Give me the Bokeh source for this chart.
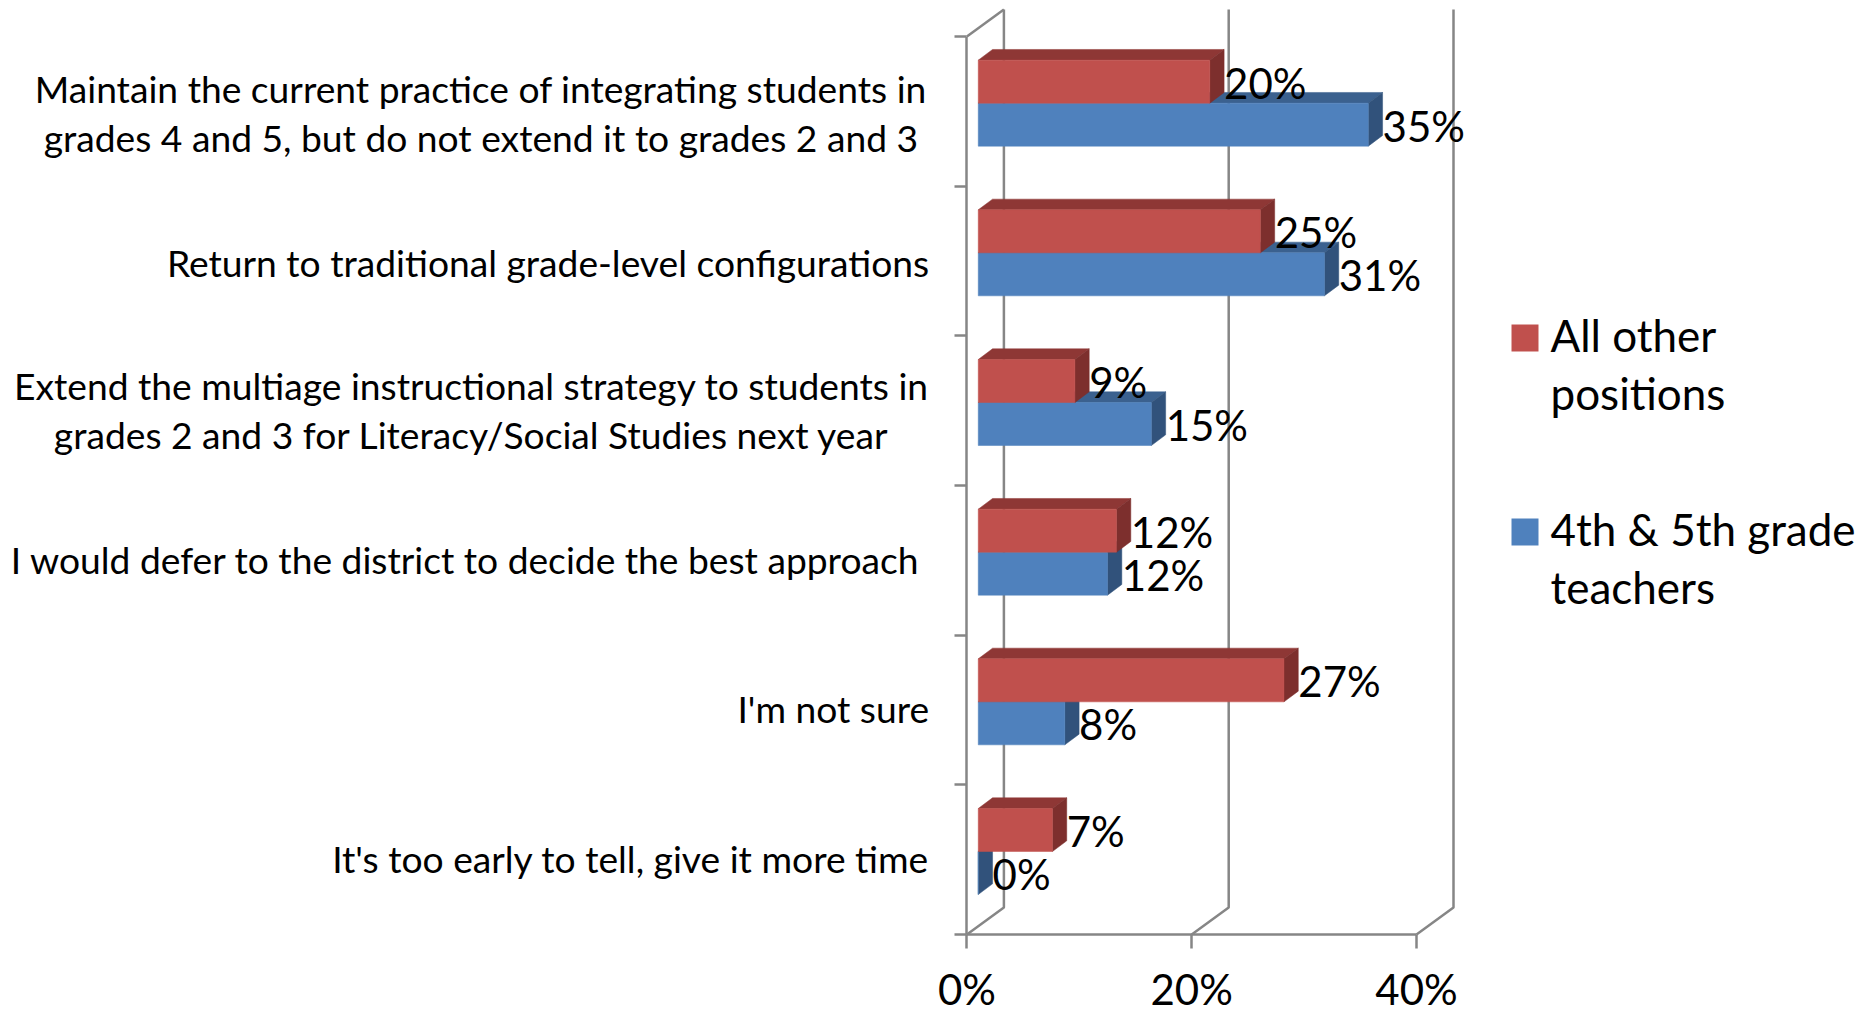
from bokeh.plotting import figure
from bokeh.embed import file_html
from bokeh.resources import INLINE
from bokeh.models import FixedTicker, Range1d, ColumnDataSource
from bokeh.core.properties import value

# ---------- data (top of chart first) ----------
categories = [
    ["Maintain the current practice of integrating students in", "grades 4 and 5, but do not extend it to grades 2 and 3"],
    ["Return to traditional grade-level configurations"],
    ["Extend the multiage instructional strategy to students in", "grades 2 and 3 for Literacy/Social Studies next year"],
    ["I would defer to the district to decide the best approach"],
    ["I'm not sure"],
    ["It's too early to tell, give it more time"],
]
series_other = [20.6, 25.1, 8.6, 12.3, 27.2, 6.6]
series_teachers = [34.7, 30.8, 15.4, 11.5, 7.7, 0.0]
labels_other = ["20%", "25%", "9%", "12%", "27%", "7%"]
labels_teachers = ["35%", "31%", "15%", "12%", "8%", "0%"]
x_ticks = [0, 20, 40]
x_tick_labels = {0: "0%", 20: "20%", 40: "40%"}
legend_names = [["All other", "positions"], ["4th & 5th grade", "teachers"]]

RED, RED_TOP, RED_SIDE = "#C0504D", "#8E3735", "#7D2F2D"
BLUE, BLUE_TOP, BLUE_SIDE = "#4F81BD", "#3B618F", "#31527B"
GRID = "#868686"
FONT = "Lato"

# ---------- layout ----------
W, H = 1864, 1013
X0_PX, Y0_PX = 966.4, 934             # position of the value 0 / category 0 inside the figure
SX, SY = 11.24, 149.67                # px per percent, px per category
WALL_DX, WALL_DY = 37 / SX, 27 / SY
BAR_DX, BAR_DY = 14.3 / SX, 10.7 / SY
OFF_X, OFF_Y = (WALL_DX - BAR_DX) / 2, (WALL_DY - BAR_DY) / 2
HALF = 43 / SY

def fx(px):  # figure px -> x data
    return (px - X0_PX) / SX

def fy(px):  # figure px from top -> y data
    return (Y0_PX - px) / SY

p = figure(width=W, height=H, output_backend="svg", toolbar_location=None,
           x_range=Range1d(fx(0), fx(W)), y_range=Range1d(fy(H), fy(0)),
           min_border=0, min_border_left=0, min_border_right=0, min_border_top=0, min_border_bottom=0)
p.outline_line_color = None
p.grid.visible = False
p.background_fill_color = "white"

# ---------- axes ----------
for ax in (p.xaxis[0], p.yaxis[0]):
    ax.fixed_location = 0
    ax.axis_line_color = GRID
    ax.axis_line_width = 2.5
    ax.major_tick_line_color = GRID
    ax.major_tick_line_width = 2.5
    ax.minor_tick_line_color = None
    ax.major_tick_in = 0
p.xaxis[0].ticker = FixedTicker(ticks=x_ticks)
p.xaxis[0].bounds = (0, 40)
p.xaxis[0].major_label_overrides = x_tick_labels
p.xaxis[0].major_tick_out = 14
p.xaxis[0].major_label_standoff = 15
p.xaxis[0].major_label_text_font = FONT
p.xaxis[0].major_label_text_font_size = "42px"
p.xaxis[0].major_label_text_color = "black"
p.yaxis[0].ticker = FixedTicker(ticks=list(range(len(categories) + 1)))
p.yaxis[0].bounds = (0, len(categories))
p.yaxis[0].major_tick_out = 12
p.yaxis[0].major_label_overrides = {i: "" for i in range(len(categories) + 1)}

# ---------- walls ----------
for t in x_ticks:
    p.line([t, t + WALL_DX, t + WALL_DX], [0, WALL_DY, len(categories) + WALL_DY],
           line_color=GRID, line_width=2.5)
p.line([0, WALL_DX], [len(categories), len(categories) + WALL_DY], line_color=GRID, line_width=2.5)

# ---------- 3D bars ----------
def draw(values, y_low, y_high, front, top, side):
    xs_top, ys_top, xs_side, ys_side = [], [], [], []
    for v, lo, hi in zip(values, y_low, y_high):
        a, b = OFF_X, OFF_X + v
        xs_top.append([a, b, b + BAR_DX, a + BAR_DX])
        ys_top.append([hi, hi, hi + BAR_DY, hi + BAR_DY])
        xs_side.append([b, b + BAR_DX, b + BAR_DX, b])
        ys_side.append([lo, lo + BAR_DY, hi + BAR_DY, hi])
    p.patches(xs_top, ys_top, fill_color=top, line_color=top, line_width=0.5)
    p.patches(xs_side, ys_side, fill_color=side, line_color=side, line_width=0.5)
    p.quad(left=[OFF_X] * len(values), right=[OFF_X + v for v in values],
           bottom=y_low, top=y_high, fill_color=front, line_color=front, line_width=0.5)

n = len(categories)
centers = [n - 0.5 - i + OFF_Y for i in range(n)]
draw(series_teachers, [c - HALF for c in centers], centers, BLUE, BLUE_TOP, BLUE_SIDE)
draw(series_other, centers, [c + HALF for c in centers], RED, RED_TOP, RED_SIDE)

# ---------- data labels ----------
def labels(values, texts, ys):
    src = ColumnDataSource(dict(x=[OFF_X + v + BAR_DX for v in values], y=ys, t=texts))
    p.text(x="x", y="y", text="t", source=src, x_offset=0, y_offset=1,
           text_font=value(FONT), text_font_size="42px", text_color="black",
           text_align="left", text_baseline="middle")

labels(series_other, labels_other, [c + HALF / 2 for c in centers])
labels(series_teachers, labels_teachers, [c - HALF / 2 for c in centers])

# ---------- category labels ----------
RIGHT_X = [None, fx(928.6), None, fx(919.5), fx(928.6), fx(928.6)]
CENTER_X = [fx(480.4), None, fx(471), None, None, None]
ROW_OFF = [1.5, 1.5, -1, -1, -1, -1]
for i, lines in enumerate(categories):
    yc = n - 0.5 - i
    off = ROW_OFF[i]
    if len(lines) == 2:
        p.text(x=[CENTER_X[i]] * 2, y=[yc, yc], text=lines, y_offset=[off - 24.5, off + 24.5],
               text_font=value(FONT), text_font_size="37.2px", text_color="black",
               text_align="center", text_baseline="middle")
    else:
        p.text(x=[RIGHT_X[i]], y=[yc], text=lines, y_offset=[off],
               text_font=value(FONT), text_font_size="37.2px", text_color="black",
               text_align="right", text_baseline="middle")

# ---------- legend ----------
swatch_top = [324, 518]
for (names, top_px, col) in zip(legend_names, swatch_top, [RED, BLUE]):
    p.quad(left=[fx(1511)], right=[fx(1538)], top=[fy(top_px)], bottom=[fy(top_px + 27)],
           fill_color=col, line_color=None)
    p.text(x=[fx(1550)] * 2, y=[fy(top_px + 10), fy(top_px + 68)], text=names,
           text_font=value(FONT), text_font_size="44px", text_color="black",
           text_align="left", text_baseline="middle")

open("out.html", "w").write(file_html(p, INLINE))
